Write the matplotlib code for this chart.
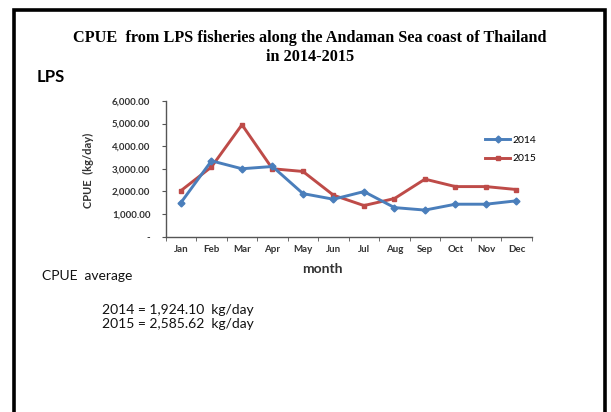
import numpy as np
import matplotlib.pyplot as plt
from matplotlib.patches import Rectangle
from matplotlib.ticker import FuncFormatter

# monthly CPUE (kg/day) of LPS fisheries
months = ['Jan', 'Feb', 'Mar', 'Apr', 'May', 'Jun', 'Jul', 'Aug', 'Sep', 'Oct', 'Nov', 'Dec']
cpue_2014 = [1500, 3350, 3000, 3100, 1900, 1650, 1990, 1280, 1170, 1430, 1430, 1580]
cpue_2015 = [2030, 3080, 4950, 3000, 2880, 1830, 1370, 1680, 2540, 2210, 2210, 2080]
avg_lines = ['2014 = 1,924.10  kg/day', '2015 = 2,585.62  kg/day']

W, H = 611, 412
fig = plt.figure(figsize=(W / 100, H / 100), dpi=100)


def px(x, y):
    # pixel position -> figure fraction
    return x / W, 1 - y / H


# outer frame, the bottom edge runs off the picture
fig.patches.append(Rectangle(px(14, 430), (605 - 14) / W, (430 - 10) / H,
                             transform=fig.transFigure, fill=False,
                             edgecolor='black', linewidth=2.6, clip_on=False))

serif = 'Liberation Serif'
sans = 'Lato'

fig.text(*px(310, 38), 'CPUE  from LPS fisheries along the Andaman Sea coast of Thailand',
         ha='center', va='center', family=serif, weight='bold', fontsize=11.7)
fig.text(*px(310, 57), 'in 2014-2015', ha='center', va='center',
         family=serif, weight='bold', fontsize=11.7)
fig.text(*px(37, 77), 'LPS', ha='left', va='center', family=sans, weight='bold', fontsize=12)

x0, x1, y_top, y_bot = 165.7, 531.7, 101, 236.5
ax = fig.add_axes([x0 / W, 1 - y_bot / H, (x1 - x0) / W, (y_bot - y_top) / H])

x = np.arange(len(months))
blue = '#4A7EBB'
red = '#BE4B48'
ax.plot(x, cpue_2014, color=blue, lw=2.1, marker='D', ms=3.5, label='2014', zorder=3)
ax.plot(x, cpue_2015, color=red, lw=2.1, marker='s', ms=3.5, label='2015', zorder=2)

ax.set_xlim(-0.5, 11.5)
ax.set_ylim(0, 6000)
ax.set_yticks(np.arange(0, 6001, 1000))
ax.yaxis.set_major_formatter(FuncFormatter(lambda v, p: '-' if v == 0 else f'{v:,.2f}'))
ax.set_xticks(x)
ax.set_xticklabels(months)
ax.set_xticks(np.arange(-0.5, 12, 1), minor=True)
ax.tick_params(axis='x', which='major', length=0, pad=6)
ax.tick_params(axis='x', which='minor', length=3, direction='out', color='#555555')
ax.tick_params(axis='y', length=3, direction='out', color='#555555', pad=8)
for lab in ax.get_xticklabels() + ax.get_yticklabels():
    lab.set_family(sans)
    lab.set_weight('bold')
    lab.set_fontsize(7)
    lab.set_color('#333333')
for side in ['top', 'right']:
    ax.spines[side].set_visible(False)
for side in ['left', 'bottom']:
    ax.spines[side].set_color('#555555')
    ax.spines[side].set_linewidth(1.0)
ax.patch.set_alpha(0)

fig.text(*px(88, 170), 'CPUE  (kg/day)', rotation=90, ha='center', va='center',
         family=sans, weight='bold', fontsize=8, color='#333333')
fig.text(*px(322, 269), 'month', ha='center', va='center', family=sans,
         weight='bold', fontsize=10, color='#333333')

ax.legend(loc='upper left', bbox_to_anchor=px(476, 126),
          bbox_transform=fig.transFigure, frameon=False, handlelength=2.4,
          handletextpad=0.2, labelspacing=0.9, prop={'family': sans, 'size': 7.5})

fig.text(*px(42, 276), 'CPUE  average', ha='left', va='center', family=sans,
         fontsize=10, color='#111111')
fig.text(*px(102, 310), avg_lines[0], ha='left', va='center', family=sans,
         fontsize=10, color='#111111')
fig.text(*px(102, 324), avg_lines[1], ha='left', va='center', family=sans,
         fontsize=10, color='#111111')

fig.savefig('out.png', dpi=100)
